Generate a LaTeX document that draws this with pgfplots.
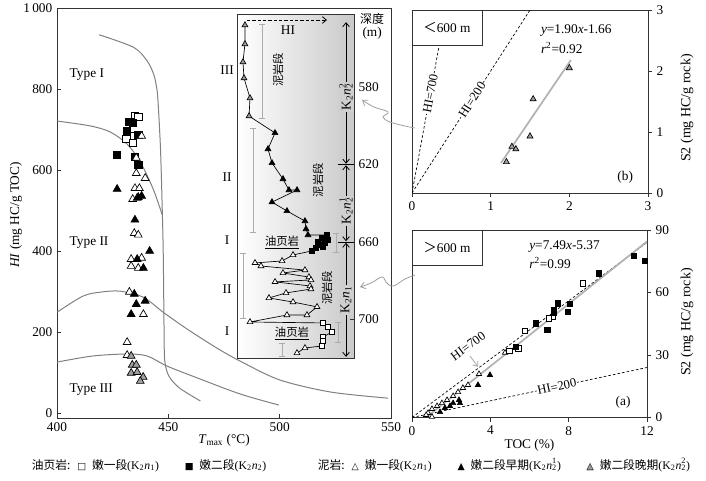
\documentclass[border=0pt]{standalone}
\usepackage{pgfplots}
\pgfplotsset{compat=1.18}
\usepackage{fontspec}
\setmainfont{Liberation Serif}
\newfontfamily\cjk{Noto Sans CJK SC}
\newfontfamily\dejavu{DejaVu Sans}
\usetikzlibrary{arrows.meta}
\definecolor{curvegray}{gray}{0.5}
\definecolor{trigray}{gray}{0.62}
\pgfplotsset{
  osq/.style={only marks, mark=square*, mark options={draw=black, fill=white, line width=0.5pt}},
  fsq/.style={only marks, mark=square*, mark options={draw=black, fill=black, line width=0.5pt}},
  otri/.style={only marks, mark=triangle*, mark options={draw=black, fill=white, line width=0.5pt}},
  ftri/.style={only marks, mark=triangle*, mark options={draw=black, fill=black, line width=0.5pt}},
  gtri/.style={only marks, mark=triangle*, mark options={draw=black, fill=trigray, line width=0.5pt}},
  rbar/.style={gray!65, line width=0.6pt, mark=-, mark size=2.3pt, mark options={solid, gray!65, line width=0.6pt}},
  every axis/.append style={axis line style={black!80, line width=0.7pt}, tick style={black!80, line width=0.6pt},
    ticklabel style={font=\fontsize{10}{12}\selectfont}, label style={font=\fontsize{10}{12}\selectfont}},
}
\newcommand{\Knone}{K\textsubscript{2}\textit{n}\textsubscript{1}}
\newcommand{\Kntwo}{K\textsubscript{2}\textit{n}\textsubscript{2}}
\newcommand{\Kntwoa}{K\textsubscript{2}\textit{n}\rlap{\textsuperscript{1}}\textsubscript{2}}
\newcommand{\Kntwob}{K\textsubscript{2}\textit{n}\rlap{\textsuperscript{2}}\textsubscript{2}}
\newcommand{\sym}[1]{{\dejavu\fontsize{7}{9}\selectfont #1}}
\begin{document}
\begin{tikzpicture}[x=0.75pt,y=0.75pt]
\useasboundingbox (0,0) rectangle (706,480);

% ---------------- main HI-Tmax panel ----------------
\begin{axis}[
  at={(42.75pt,46.5pt)}, anchor=south west, scale only axis,
  width=250.5pt, height=307.5pt,
  xmin=400, xmax=550, ymin=-12, ymax=1000,
  xtick={400,450,500,550}, xticklabels={400,450,500,550},
  ytick={0,200,400,600,800,1000}, yticklabels={0,200,400,600,800,1\,000},
  tick align=inside, xtick pos=bottom, ytick pos=left, major tick length=3pt,
  xlabel={\textit{T}\textsubscript{max} (°C)}, xlabel style={yshift=5pt},
]
\addplot[curvegray, line width=0.75pt, smooth, tension=0.5] coordinates {
 (418.9,934) (434.4,903) (440.4,870) (443.4,837) (444.6,808) (445.3,775) (446.5,650) (447.3,496)
 (447.7,400) (448,250) (448.2,150) (448.7,118) (450.4,90) (455,62) (464.4,30)};
\addplot[curvegray, line width=0.75pt, smooth] coordinates {
 (400,721) (414.9,709) (423.9,694) (431.5,664) (437.4,620) (443.2,553) (447.3,489)};
\addplot[curvegray, line width=0.75pt, smooth] coordinates {
 (400,249) (411.7,289) (420,299) (428.4,301) (438.8,286) (447.7,249) (458.6,207) (472,160)
 (482.4,128) (500,82) (523,52) (548.7,37)};
\addplot[curvegray, line width=0.75pt, smooth] coordinates {
 (400,126) (416,141) (431.5,146) (440.5,141) (449.5,116) (464.4,84) (482.4,47) (499.6,20)};

\addplot[osq, mark size=2.7pt] coordinates {(435.1,733) (436.5,731) (432.9,684) (431.1,677) (434.2,667)};
\addplot[fsq, mark size=2.7pt] coordinates {(432.5,719) (434,716) (431.5,697) (436.5,686) (427,637) (435,632) (436.5,612)};
\addplot[otri, mark size=3.4pt] coordinates {(438,684) (435.6,630) (435.6,592) (439.6,580) (435,555) (437,555)
 (434,528) (436,531) (434.7,444) (436.5,440) (433.3,380) (438,383) (433.3,363) (436.5,358) (432.5,299)
 (438.8,244) (431.5,175) (431.5,143)};
\addplot[ftri, mark size=3.4pt] coordinates {(427,553) (436.5,533) (438,536) (435,477) (441.6,400) (436,380)
 (438.8,358) (434.7,294) (439.6,277) (435.6,269) (433.3,244)};
\addplot[gtri, mark size=3.4pt] coordinates {(433.3,141) (433.8,119) (435.6,119) (433.3,99) (436,101) (438.7,89) (437.4,79)};

\node[anchor=west] at (axis cs:403.6,835) {Type I};
\node[anchor=west] at (axis cs:403.6,420) {Type II};
\node[anchor=west] at (axis cs:403.6,57) {Type III};
\end{axis}
\node[rotate=90, font=\fontsize{10}{12}\selectfont] at (16,265) {\textit{HI} (mg HC/g TOC)};

% ---------------- inset depth profile ----------------
\begin{axis}[
  at={(177.75pt,91.5pt)}, anchor=south west, scale only axis,
  width=87.75pt, height=258pt,
  xmin=0, xmax=1000, ymin=542.3, ymax=719.9, y dir=reverse,
  xtick=\empty, ytick={580,620,660,700}, yticklabels={580,620,660,700},
  ytick pos=right, yticklabel pos=right, tick align=inside, major tick length=3pt,
  axis background/.style={left color=white, right color=gray!42},
  clip=false,
]
% range bars
\addplot[rbar] coordinates {(214,547.5) (214,596.0)};
\addplot[rbar] coordinates {(137,601.2) (137,654.8)};
\addplot[rbar] coordinates {(51,665.7) (51,699.7)};
\addplot[rbar] coordinates {(385,712.6) (385,719.3)};
\addplot[rbar] coordinates {(846,655.4) (846,665.2)};
\addplot[rbar] coordinates {(863,701.3) (863,711.6)};
% profile line
\addplot[black, line width=0.5pt] coordinates {
 (68,548.0) (68,557.8) (51,567.1) (60,575.4) (111,585.7) (103,595.0)
 (325,603.7) (265,612.0) (299,619.2) (393,627.5) (444,633.2) (513,633.2) (299,639.4) (427,644.0) (581,649.2) (590,653.3) (607,656.4)
 (769,656.4) (726,657.9) (778,659.0) (692,660.0) (752,660.5) (709,661.6) (735,662.6) (675,663.1) (641,664.6)
 (479,666.7) (385,669.8) (154,670.8) (205,672.4) (581,674.5) (393,676.0) (615,678.1) (632,679.6) (325,680.6) (624,682.7) (632,684.3) (419,686.3) (273,688.9) (479,691.0) (684,693.5) (598,697.7) (427,697.7) (111,701.3)
 (735,701.8) (778,703.9) (812,706.5) (735,709.0) (735,711.1) (726,713.7)
 (581,714.7) (513,717.3)};
\addplot[gtri, mark size=2.5pt] coordinates {(68,548.0) (68,557.8) (51,567.1) (60,575.4) (111,585.7) (103,595.0)};
\addplot[ftri, mark size=2.5pt] coordinates {(325,603.7) (265,612.0) (299,619.2) (393,627.5) (444,633.2) (513,633.2) (299,639.4) (427,644.0) (581,649.2) (590,653.3) (607,656.4)};
\addplot[fsq, mark size=2pt] coordinates {(769,656.4) (726,657.9) (778,659.0) (692,660.0) (752,660.5) (709,661.6) (735,662.6) (675,663.1) (641,664.6)};
\addplot[otri, mark size=2.5pt] coordinates {(479,666.7) (385,669.8) (154,670.8) (205,672.4) (581,674.5) (393,676.0) (615,678.1) (632,679.6) (325,680.6) (624,682.7) (632,684.3) (419,686.3) (273,688.9) (479,691.0) (684,693.5) (598,697.7) (427,697.7) (111,701.3) (581,714.7) (513,717.3)};
\addplot[osq, mark size=2pt] coordinates {(735,701.8) (778,703.9) (812,706.5) (735,709.0) (735,711.1) (726,713.7)};
% HI arrow
\draw[black, line width=0.6pt, dash pattern=on 2.5pt off 1.5pt, -{Straight Barb[length=3pt,width=5pt]}] (axis cs:85,545.4) -- (axis cs:769,545.4);
\node[font=\fontsize{10}{12}\selectfont] at (axis cs:436,550.5) {HI};
% stage labels
\node[font=\fontsize{10}{12}\selectfont] at (axis cs:-85,571.2) {III};
\node[font=\fontsize{10}{12}\selectfont] at (axis cs:-85,626.5) {II};
\node[font=\fontsize{10}{12}\selectfont] at (axis cs:-85,659) {I};
\node[font=\fontsize{10}{12}\selectfont] at (axis cs:-85,684.3) {II};
\node[font=\fontsize{10}{12}\selectfont] at (axis cs:-85,706) {I};
% chinese labels
\node[rotate=90, font=\cjk\fontsize{8.5}{10}\selectfont] at (axis cs:350,571.2) {泥岩段};
\node[rotate=90, font=\cjk\fontsize{8.5}{10}\selectfont] at (axis cs:692,628) {泥岩段};
\node[rotate=90, font=\cjk\fontsize{8.5}{10}\selectfont] at (axis cs:769,683.7) {泥岩段};
\node[font=\cjk\fontsize{8.5}{10}\selectfont] at (axis cs:385,660.5) {\underline{油页岩}};
\node[font=\cjk\fontsize{8.5}{10}\selectfont] at (axis cs:470,707.5) {\underline{油页岩}};
% stratigraphic arrows
\draw[black, line width=0.6pt, {Straight Barb[length=3pt,width=5pt]}-{Straight Barb[length=3pt,width=5pt]}] (axis cs:932,546.5) -- (axis cs:932,619.6);
\draw[black, line width=0.6pt, {Straight Barb[length=3pt,width=5pt]}-{Straight Barb[length=3pt,width=5pt]}] (axis cs:932,620.4) -- (axis cs:932,659.6);
\draw[black, line width=0.6pt, {Straight Barb[length=3pt,width=5pt]}-{Straight Barb[length=3pt,width=5pt]}] (axis cs:932,660.4) -- (axis cs:932,719.3);
\draw[black, line width=0.6pt] (axis cs:860,620) -- (axis cs:1000,620);
\draw[black, line width=0.6pt] (axis cs:860,660) -- (axis cs:1000,660);
\node[rotate=90, fill=gray!38, inner sep=1pt, font=\fontsize{10}{12}\selectfont] at (axis cs:932,585) {\Kntwob};
\node[rotate=90, fill=gray!38, inner sep=1pt, font=\fontsize{10}{12}\selectfont] at (axis cs:932,644) {\Kntwoa};
\node[rotate=90, fill=gray!38, inner sep=1pt, font=\fontsize{10}{12}\selectfont] at (axis cs:932,690) {\Knone};
\node[font=\cjk\fontsize{9}{11}\selectfont] at (axis cs:1155,544.6) {深度};
\node[font=\fontsize{10}{12}\selectfont] at (axis cs:1155,552.5) {(m)};
\end{axis}

% ---------------- panel (b) ----------------
\begin{axis}[
  at={(309pt,215.25pt)}, anchor=south west, scale only axis,
  width=177pt, height=137.25pt,
  xmin=0, xmax=3, ymin=0, ymax=3,
  xtick={0,1,2,3}, xticklabels={0,1,2,3}, ytick={0,1,2,3}, yticklabels={0,1,2,3},
  xtick pos=bottom, ytick pos=right, yticklabel pos=right, tick align=outside, major tick length=3pt,
]
\addplot[black, line width=0.5pt, dash pattern=on 2pt off 1.5pt] coordinates {(0,0) (0.4286,3)};
\addplot[black, line width=0.5pt, dash pattern=on 2pt off 1.5pt] coordinates {(0,0) (1.5,3)};
\node[rotate=79.6, fill=white, inner sep=0.6pt, font=\fontsize{9.5}{11}\selectfont] at (axis cs:0.233,1.63) {HI=700};
\node[rotate=57.2, fill=white, inner sep=0.6pt, font=\fontsize{9.5}{11}\selectfont] at (axis cs:0.763,1.525) {HI=200};
\addplot[gray!60, line width=1.3pt] coordinates {(1.13,0.49) (2.02,2.18)};
\addplot[gtri, mark size=2.6pt] coordinates {(2.0,2.05) (1.54,1.54) (1.5,0.93) (1.27,0.76) (1.32,0.72) (1.2,0.51)};
\filldraw[fill=white, draw=black!80, line width=0.6pt] (axis cs:0,2.426) rectangle (axis cs:0.89,3);
\node[font=\fontsize{10}{12}\selectfont] at (axis cs:0.445,2.713) {{\cjk ＜}600 m};
\node[anchor=west, font=\fontsize{10}{12}\selectfont] at (axis cs:1.58,2.67) {\textit{y}=1.90\textit{x}-1.66};
\node[anchor=west, font=\fontsize{10}{12}\selectfont] at (axis cs:1.58,2.38) {\textit{r}\textsuperscript{2}=0.92};
\node[font=\fontsize{10}{12}\selectfont] at (axis cs:2.71,0.25) {(b)};
\end{axis}

% ---------------- panel (a) ----------------
\begin{axis}[
  at={(309pt,46.875pt)}, anchor=south west, scale only axis,
  width=176.25pt, height=140.625pt,
  xmin=0, xmax=12, ymin=0, ymax=90,
  xtick={0,4,8,12}, xticklabels={0,4,8,12}, ytick={0,30,60,90}, yticklabels={0,30,60,90},
  xtick pos=bottom, ytick pos=right, yticklabel pos=right, tick align=outside, major tick length=3pt,
  xlabel={TOC (\%)}, xlabel style={yshift=4pt},
]
\addplot[black, line width=0.5pt, dash pattern=on 2pt off 1.5pt] coordinates {(0,0) (12,84)};
\addplot[black, line width=0.5pt, dash pattern=on 2pt off 1.5pt] coordinates {(0,0) (12,24)};
\node[rotate=12, fill=white, inner sep=0.6pt, font=\fontsize{9.5}{11}\selectfont] at (axis cs:7.4,14.8) {HI=200};
\node[rotate=36.7, inner sep=0.6pt, font=\fontsize{9.5}{11}\selectfont] at (axis cs:2.86,34.3) {HI=700};
\draw[gray!70, line width=0.6pt, -{Straight Barb[length=3pt,width=5pt]}] (axis cs:2.96,29.5) -- (axis cs:3.37,24.4);
\addplot[gray!60, line width=1.3pt] coordinates {(0.85,1.0) (12,84.5)};
\addplot[otri, mark size=2.3pt] coordinates {(4.75,31.1) (3.42,20.9) (2.86,15.6) (2.6,14.2) (2.35,12.2) (2.1,10.3)
 (1.79,8.4) (1.53,6.9) (1.28,5.5) (1.02,4.1) (0.82,2.2) (0.72,1.2) (1.02,0.3)};
\addplot[ftri, mark size=2.3pt] coordinates {(3.98,20.4) (3.37,15.6) (2.4,8.4) (2.45,6.9) (2.1,6.9) (1.94,5.5) (1.68,4.6) (1.43,2.6)};
\addplot[osq, mark size=1.9pt] coordinates {(8.72,64.4) (7.19,48.4) (7.0,47.6) (5.77,41.5) (5.43,33.2) (4.97,31.9)};
\addplot[fsq, mark size=1.9pt] coordinates {(11.35,77.5) (11.87,75.1) (9.55,69.2) (8.07,54.5) (7.98,50.8) (7.47,54.8)
 (7.22,51.9) (7.22,50.3) (6.91,42.3) (6.33,45.2) (5.31,34.0)};
\filldraw[fill=white, draw=black!80, line width=0.6pt] (axis cs:0,73.2) rectangle (axis cs:3.575,90);
\node[font=\fontsize{10}{12}\selectfont] at (axis cs:1.79,81.6) {{\cjk ＞}600 m};
\node[anchor=west, font=\fontsize{10}{12}\selectfont] at (axis cs:5.75,81.9) {\textit{y}=7.49\textit{x}-5.37};
\node[anchor=west, font=\fontsize{10}{12}\selectfont] at (axis cs:5.75,74.2) {\textit{r}\textsuperscript{2}=0.99};
\node[font=\fontsize{10}{12}\selectfont] at (axis cs:10.78,7.4) {(a)};
\end{axis}

% right axis labels
\node[rotate=90, font=\fontsize{10.5}{12}\selectfont] at (687,372) {S2 (mg HC/g rock)};
\node[rotate=90, font=\fontsize{10.5}{12}\selectfont] at (687,158) {S2 (mg HC/g rock)};

% connecting wavy arrows
\draw[gray!75, line width=0.6pt, -{Straight Barb[length=3.5pt,width=5pt]}] plot[smooth, tension=0.7] coordinates {(415,352) (405,354) (390,358) (383,363) (388,368) (374,373) (362,380)};
\draw[gray!75, line width=0.6pt, -{Straight Barb[length=3.5pt,width=5pt]}] plot[smooth, tension=0.7] coordinates {(415,205) (405,201) (393,194) (386,198) (382,203) (371,197) (360,193)};

% legend
\node[anchor=center, inner sep=0pt, font=\cjk\fontsize{8.8}{10}\selectfont] at (361,15) {%
油页岩:\hspace{0.6em}\sym{□}\hspace{0.5em}嫩一段{\rmfamily(\Knone)}\hspace{2.2em}%
\sym{■}\hspace{0.5em}嫩二段{\rmfamily(\Kntwo)}\hspace{4.4em}%
泥岩:\hspace{0.6em}\sym{△}\hspace{0.5em}嫩一段{\rmfamily(\Knone)}\hspace{2.2em}%
\sym{▲}\hspace{0.5em}嫩二段早期{\rmfamily(\Kntwoa)}\hspace{2.2em}%
\sym{\rlap{\textcolor{trigray}{▲}}△}\hspace{0.5em}嫩二段晚期{\rmfamily(\Kntwob)}};
\end{tikzpicture}
\end{document}
